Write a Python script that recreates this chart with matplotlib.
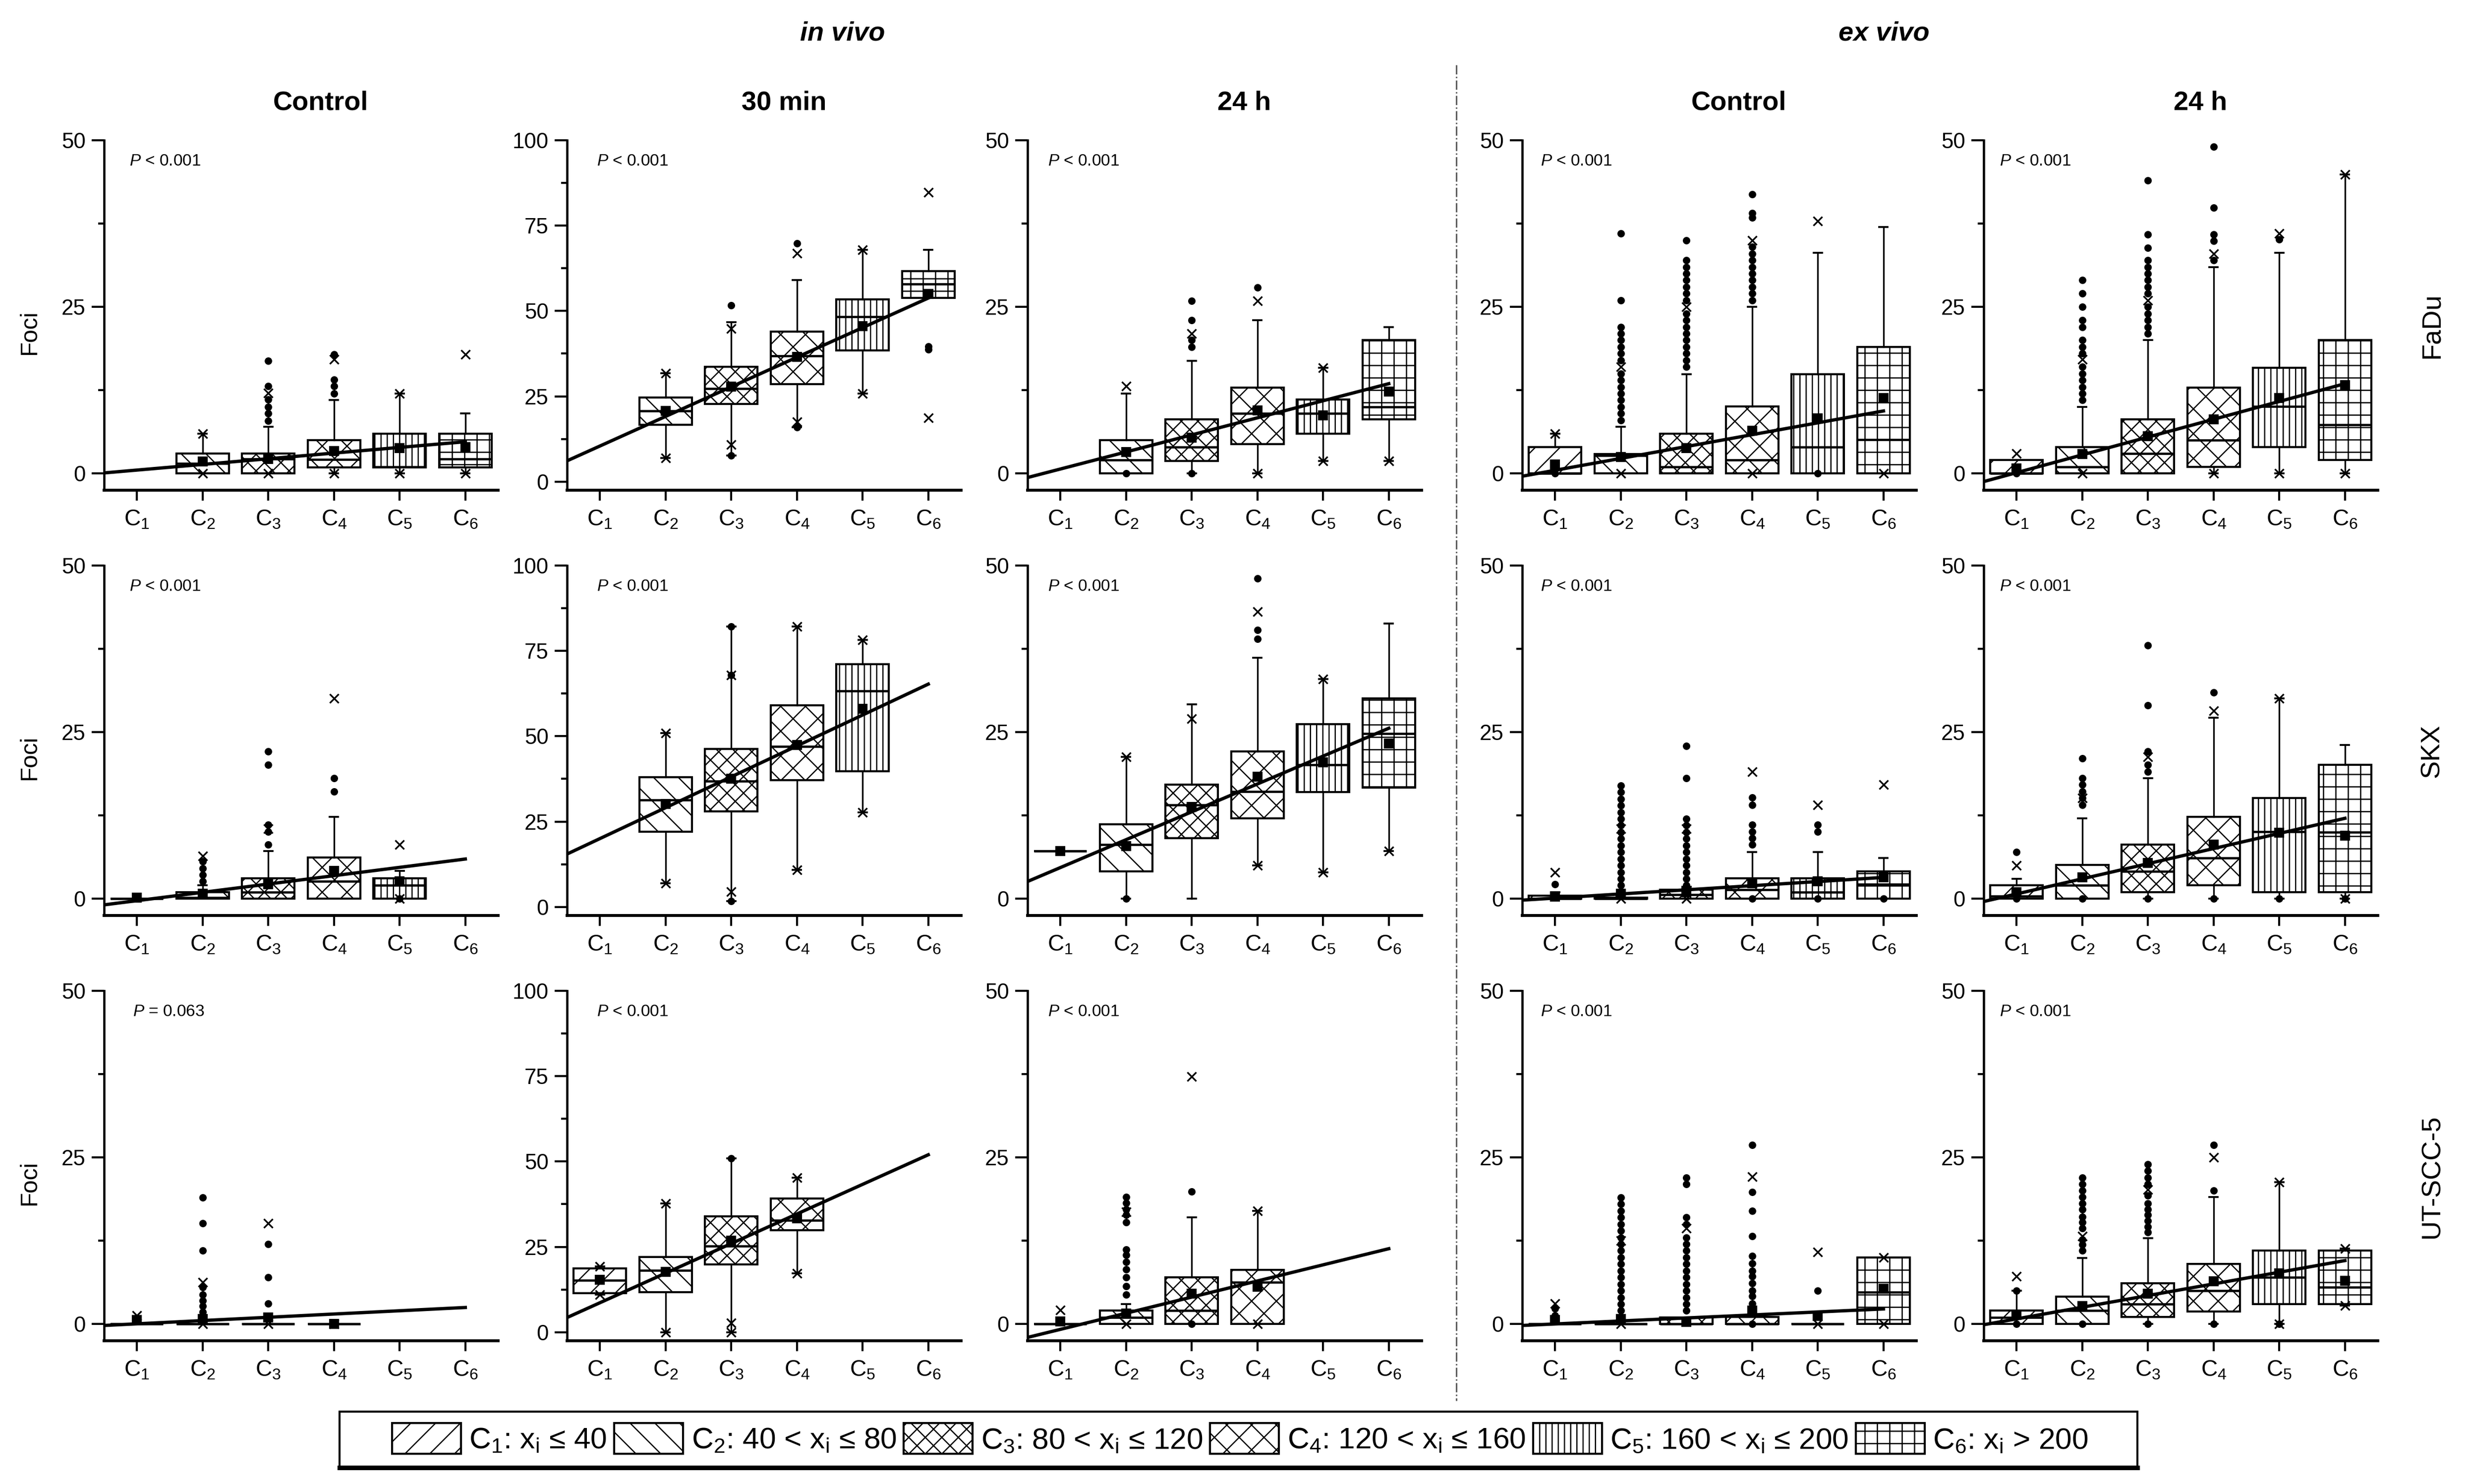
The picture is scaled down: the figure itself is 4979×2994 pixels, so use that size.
import numpy as np
import matplotlib
matplotlib.use("Agg")
import matplotlib.pyplot as plt
from matplotlib.patches import Patch, Rectangle
from matplotlib.lines import Line2D
from matplotlib.ticker import MultipleLocator

plt.rcParams['font.family'] = ['Liberation Sans', 'DejaVu Sans']
plt.rcParams['mathtext.fontset'] = 'custom'
plt.rcParams['mathtext.rm'] = 'Liberation Sans'
plt.rcParams['mathtext.it'] = 'Liberation Sans:italic'
plt.rcParams['mathtext.default'] = 'regular'
plt.rcParams['hatch.linewidth'] = 0.6

# ==========================================
# 1. DATA
# ==========================================
categories = ['C$_1$', 'C$_2$', 'C$_3$', 'C$_4$', 'C$_5$', 'C$_6$']
legend_labels = ['C$_1$: x$_i$ \u2264 40', 'C$_2$: 40 < x$_i$ \u2264 80',
                 'C$_3$: 80 < x$_i$ \u2264 120', 'C$_4$: 120 < x$_i$ \u2264 160',
                 'C$_5$: 160 < x$_i$ \u2264 200', 'C$_6$: x$_i$ > 200']
hatches = ['//', '\\\\', 'xxx', 'xx', '||||', '++']
col_titles = ['Control', '30 min', '24 h', 'Control', '24 h']
row_labels = ['FaDu', 'SKX', 'UT-SCC-5']
col_ymax = [50, 100, 50, 50, 50]
p_texts = [['< 0.001'] * 5, ['< 0.001'] * 5, ['= 0.063'] + ['< 0.001'] * 4]

# box stats per category: (q1, median, q3, whisker low, whisker high, mean); None = no data
# --- FaDu ---
fadu_vivo_ctrl = [None, (0, 1.5, 3.0, 0, 6.0, 1.8), (0, 2.2, 3.0, 0, 7.0, 2.2),
                  (0.9, 2.1, 5.0, 0, 11.0, 3.4), (0.9, 1.0, 6.0, 0, 12.0, 3.8), (0.9, 2.2, 6.0, 0, 9.0, 4.0)]
fadu_vivo_ctrl_dots = [[], [], [7.9, 9.0, 10.0, 11.1, 13.1, 16.9], [12.0, 13.1, 14.1, 17.9], [], []]
fadu_vivo_ctrl_cross = [[], [6.0, 0], [12.1, 0], [17.1, 0], [12.0, 0], [17.9, 0]]
fadu_vivo_ctrl_fit = (-0.33, 0.85)

fadu_vivo_30 = [None, (16.7, 20.8, 24.6, 6.9, 31.7, 20.7), (22.7, 27.2, 33.7, 7.7, 46.7, 27.8),
                (28.6, 36.9, 44.0, 15.9, 59.0, 36.5), (38.4, 48.3, 53.4, 25.8, 67.9, 45.5),
                (53.8, 57.9, 61.7, 53.8, 67.9, 55.0)]
fadu_vivo_30_dots = [[], [], [51.7, 7.7], [69.8, 15.9], [], [39.6, 38.8]]
fadu_vivo_30_cross = [[], [31.7, 6.9], [44.8, 10.8], [66.9, 17.5], [67.9, 25.8], [84.8, 18.7]]
fadu_vivo_30_fit = (1.77, 8.67)

fadu_vivo_24 = [None, (0, 2.0, 5.0, 0, 12.0, 3.2), (1.9, 4.0, 8.1, 0, 16.9, 5.4),
                (4.4, 9.0, 12.9, 0, 23.0, 9.5), (6.0, 9.0, 11.1, 1.9, 15.9, 8.75),
                (8.1, 10.0, 20.0, 1.9, 22.0, 12.3)]
fadu_vivo_24_dots = [[], [0], [19.0, 20.0, 23.0, 25.9, 0], [27.9], [], []]
fadu_vivo_24_cross = [[], [13.1], [21.0], [25.9, 0], [15.9, 1.9], [1.9]]
fadu_vivo_24_fit = (-1.88, 2.56)

fadu_ex_ctrl = [(0, 0, 4.0, 0, 6.0, 1.4), (0, 2.7, 2.9, 0, 7.0, 2.5), (0, 1.0, 6.0, 0, 14.9, 3.8),
                (0, 2.0, 10.1, 0, 25.0, 6.4), (0, 4.0, 14.9, 0, 33.1, 8.3), (0, 5.1, 19.0, 0, 37.0, 11.3)]
fadu_ex_ctrl_dots = [[0], [8, 9, 10, 11, 12, 13, 14, 15, 17, 18, 19, 20, 21, 22, 26, 36],
                     [16, 17, 18, 19, 20, 21, 22, 23, 24, 26, 27, 28, 29, 30, 31, 32, 35],
                     [26, 27, 28, 29, 30, 31, 32, 33, 34, 38.4, 39.1, 41.9], [0], []]
fadu_ex_ctrl_cross = [[6.0], [16, 0], [25], [35, 0], [37.9], [0]]
fadu_ex_ctrl_fit = (-1.29, 1.78)

fadu_ex_24 = [(0, 0, 2.0, 0, 2.0, 0.8), (0, 1.0, 4.0, 0, 10.0, 2.9), (0, 3.0, 8.1, 0, 20.0, 5.6),
              (1.0, 5.0, 12.9, 0, 31.0, 8.1), (4.0, 10.1, 15.9, 0, 33.1, 11.3), (2.0, 7.3, 20.0, 0, 44.9, 13.3)]
fadu_ex_24_dots = [[0], [11, 12, 13, 14, 15, 16, 18, 19, 20, 22, 23, 25, 27, 29],
                   [21, 22, 23, 24, 25, 27, 28, 29, 30, 31, 32, 33.9, 35.9, 44],
                   [32, 34.9, 35.9, 39.9, 49], [35.1], []]
fadu_ex_24_cross = [[3.0], [17.1, 0], [26], [33, 0], [36, 0], [44.9, 0]]
fadu_ex_24_fit = (-2.54, 2.67)

# --- SKX ---
skx_vivo_ctrl = [(0, 0, 0, 0, 0, 0.2), (0, 0.2, 1.0, 0, 2.0, 0.8), (0, 1.0, 3.1, 0, 7.2, 2.2),
                 (0, 2.6, 6.2, 0, 12.3, 4.2), (0, 2.0, 3.1, 0, 4.2, 2.6), None]
skx_vivo_ctrl_dots = [[], [2.6, 3.6, 4.6, 5.6], [8.1, 10.1, 11.1, 20.1, 22.1], [16.1, 18.1], [0], []]
skx_vivo_ctrl_cross = [[], [6.4], [10.5], [30.1], [8.1, 0], []]
skx_vivo_ctrl_fit = (-1.53, 1.25)

skx_vivo_30 = [None, (22.1, 31.3, 38.0, 6.9, 51.0, 30.1), (28.0, 36.8, 46.3, 1.7, 82.1, 37.6),
               (37.2, 47.0, 59.1, 10.8, 82.1, 47.4), (39.8, 63.2, 71.1, 27.7, 78.2, 58.1), None]
skx_vivo_30_dots = [[], [], [82.1, 67.9, 1.7], [], [], []]
skx_vivo_30_cross = [[], [51.0, 6.9], [67.9, 4.5], [82.1, 10.8], [78.2, 27.7], []]
skx_vivo_30_fit = (10.97, 9.05)

skx_vivo_24 = [(7.2, 7.2, 7.2, 7.2, 7.2, 7.2), (4.1, 8.1, 11.2, 0, 21.3, 7.9), (9.1, 14.1, 17.1, 0, 29.2, 13.8),
               (12.1, 16.1, 22.1, 5.0, 36.2, 18.3), (16.0, 20.1, 26.2, 4.0, 33.0, 20.5),
               (16.7, 24.8, 30.1, 7.2, 41.3, 23.3)]
skx_vivo_24_dots = [[], [0], [], [39.0, 40.3, 48.1], [], []]
skx_vivo_24_cross = [[], [21.3], [27.0], [43.1, 5.0], [33.0, 4.0], [7.2]]
skx_vivo_24_fit = (0.51, 4.18)

skx_ex_ctrl = [(0, 0, 0.5, 0, 1.0, 0.3), (0, 0, 0.2, 0, 0.5, 0.8), (0, 0.6, 1.4, 0, 1.8, 1.0),
               (0, 1.4, 3.1, 0, 7.0, 2.3), (0, 1.0, 3.1, 0, 7.0, 2.6), (0, 2.2, 4.1, 0, 6.1, 3.2)]
skx_ex_ctrl_dots = [[2.2], [1, 2, 3, 4, 5, 6, 7, 8, 9, 10, 11, 12, 13, 14, 15, 16, 17],
                    [2, 3, 4, 5, 6, 7, 8, 9, 10, 11, 12, 18.1, 22.9],
                    [8.1, 9.1, 10.1, 11.1, 14.1, 15.2, 0], [10.1, 11.1, 0], [0]]
skx_ex_ctrl_cross = [[4.0], [10.5, 0], [10.5, 0], [19.1], [14.1], [17.1]]
skx_ex_ctrl_fit = (-0.51, 0.62)

skx_ex_24 = [(0, 0.4, 2.0, 0, 3.0, 1.0), (0, 2.0, 5.1, 0, 12.1, 3.2), (1.0, 4.1, 8.1, 0, 18.1, 5.4),
             (2.0, 6.1, 12.3, 0, 27.2, 8.1), (1.0, 10.1, 15.1, 0, 30.1, 9.9), (1.0, 10.0, 20.1, 0, 23.1, 9.5)]
skx_ex_24_dots = [[7.0, 0], [14.1, 15.1, 16.1, 17.1, 18.1, 21.1, 0], [19.1, 20.1, 22.1, 29.0, 38.0, 0],
                  [31.0, 0], [0], [0]]
skx_ex_24_cross = [[5.0], [15.1], [21.3], [28.2], [30.1], [0]]
skx_ex_24_fit = (-1.54, 2.27)

# --- UT-SCC-5 ---
ut_vivo_ctrl = [(0, 0, 0, 0, 0, 0.6), (0, 0, 0, 0, 0, 0.8), (0, 0, 0, 0, 0, 1.0), (0, 0, 0, 0, 0, 0),
                None, None]
ut_vivo_ctrl_dots = [[], [1.8, 2.7, 3.5, 4.4, 5.5, 11.0, 15.1, 19.0], [3.1, 7.0, 12.0], [], [], []]
ut_vivo_ctrl_cross = [[1.3], [6.3, 0], [15.1, 0], [0], [], []]
ut_vivo_ctrl_fit = (-0.45, 0.49)

ut_vivo_30 = [(11.4, 15.2, 18.7, 11.0, 19.3, 15.3), (11.8, 18.1, 22.0, 0, 37.7, 17.7),
              (19.8, 25.3, 33.9, 0, 51.0, 26.8), (29.9, 32.8, 39.1, 17.3, 45.3, 33.3), None, None]
ut_vivo_30_dots = [[], [], [51.0], [], [], []]
ut_vivo_30_cross = [[19.3, 11.0], [37.7, 0], [2.7, 0], [45.3, 17.3], [], []]
ut_vivo_30_fit = (-0.04, 8.67)

ut_vivo_24 = [(0, 0, 0, 0, 0, 0.4), (0, 1.0, 2.0, 0, 3.0, 1.6), (0, 2.0, 7.0, 0, 16.0, 4.6),
              (0, 6.3, 8.1, 0, 17.0, 5.6), None, None]
ut_vivo_24_dots = [[], [4.4, 5.7, 7.0, 8.2, 9.3, 10.4, 11.2, 15.3, 16.4, 17.2, 18.2, 19.1], [19.9, 0], [], [], []]
ut_vivo_24_cross = [[2.1], [16.8, 0], [37.1], [17.0, 0], [], []]
ut_vivo_24_fit = (-3.21, 2.42)

ut_ex_ctrl = [(0, 0, 0, 0, 0, 0.6), (0, 0, 0, 0, 0, 0.8), (0, 0, 1.0, 0, 1.0, 0.3),
              (0, 0, 1.1, 0, 1.1, 2.0), (0, 0, 0, 0, 0, 1.2), (0, 4.8, 10.0, 0, 10.0, 5.3)]
ut_ex_ctrl_dots = [[1.3, 2.3], [1, 2, 3, 4, 5, 6, 7, 8, 9, 10, 11, 12, 13, 14, 15, 16, 17, 18, 19],
                   [2, 3, 4, 5, 6, 7, 8, 9, 10, 11, 12, 13, 15, 16, 21, 22],
                   [2.3, 3.1, 4.2, 5.0, 6.1, 7.2, 8.0, 9.1, 10.2, 13.2, 17.0, 19.8, 26.9, 0], [5.0], []]
ut_ex_ctrl_cross = [[3.1], [12.5, 0], [14.4], [22.1], [10.8, 0], [10.0, 0]]
ut_ex_ctrl_fit = (-0.43, 0.45)

ut_ex_24 = [(0, 1.0, 2.0, 0, 5.0, 1.4), (0, 2.0, 4.1, 0, 9.9, 2.7), (1.1, 3.0, 6.1, 0, 12.9, 4.6),
            (1.9, 5.0, 9.0, 0, 19.1, 6.4), (3.0, 7.0, 11.0, 0, 21.3, 7.6), (3.0, 5.5, 11.0, 2.8, 11.3, 6.5)]
ut_ex_24_dots = [[5.0, 0], [11.0, 11.9, 12.7, 14.4, 15.3, 16.1, 17.2, 18.1, 19.1, 20.0, 21.0, 22.0, 0],
                 [13.8, 14.6, 15.5, 16.4, 17.2, 18.1, 19.3, 21.0, 22.0, 23.0, 24.0, 0],
                 [20.0, 26.9, 0], [0], []]
ut_ex_24_cross = [[7.2], [13.2], [20.2], [25.0], [21.3, 0], [11.3, 2.8]]
ut_ex_24_fit = (-0.97, 1.75)

panels = [
    [(fadu_vivo_ctrl, fadu_vivo_ctrl_dots, fadu_vivo_ctrl_cross, fadu_vivo_ctrl_fit),
     (fadu_vivo_30, fadu_vivo_30_dots, fadu_vivo_30_cross, fadu_vivo_30_fit),
     (fadu_vivo_24, fadu_vivo_24_dots, fadu_vivo_24_cross, fadu_vivo_24_fit),
     (fadu_ex_ctrl, fadu_ex_ctrl_dots, fadu_ex_ctrl_cross, fadu_ex_ctrl_fit),
     (fadu_ex_24, fadu_ex_24_dots, fadu_ex_24_cross, fadu_ex_24_fit)],
    [(skx_vivo_ctrl, skx_vivo_ctrl_dots, skx_vivo_ctrl_cross, skx_vivo_ctrl_fit),
     (skx_vivo_30, skx_vivo_30_dots, skx_vivo_30_cross, skx_vivo_30_fit),
     (skx_vivo_24, skx_vivo_24_dots, skx_vivo_24_cross, skx_vivo_24_fit),
     (skx_ex_ctrl, skx_ex_ctrl_dots, skx_ex_ctrl_cross, skx_ex_ctrl_fit),
     (skx_ex_24, skx_ex_24_dots, skx_ex_24_cross, skx_ex_24_fit)],
    [(ut_vivo_ctrl, ut_vivo_ctrl_dots, ut_vivo_ctrl_cross, ut_vivo_ctrl_fit),
     (ut_vivo_30, ut_vivo_30_dots, ut_vivo_30_cross, ut_vivo_30_fit),
     (ut_vivo_24, ut_vivo_24_dots, ut_vivo_24_cross, ut_vivo_24_fit),
     (ut_ex_ctrl, ut_ex_ctrl_dots, ut_ex_ctrl_cross, ut_ex_ctrl_fit),
     (ut_ex_24, ut_ex_24_dots, ut_ex_24_cross, ut_ex_24_fit)],
]

# ==========================================
# 2. LAYOUT
# ==========================================
W, H = 4979, 2994
fig = plt.figure(figsize=(W / 300, H / 300), dpi=300)

ax_left_px = [210, 1144, 2073, 3071, 4002]
ax_bottom_px = [989, 1847, 2705]
ax_w_px, ax_h_px = 795, 706
p_x = [0.064, 0.075, 0.052, 0.047, 0.040]


def draw_panel(ax, stats, dots, cross, fit, ymax):
    bstats, pos = [], []
    for i, s in enumerate(stats):
        if s is None:
            continue
        q1, med, q3, lo, hi, mean = s
        bstats.append(dict(q1=q1, med=med, q3=q3, whislo=lo, whishi=hi, mean=mean, fliers=dots[i]))
        pos.append(i + 1)
    bp = ax.bxp(bstats, positions=pos, widths=0.8, capwidths=0.13, patch_artist=True, showmeans=True,
                boxprops=dict(facecolor='white', edgecolor='black', linewidth=1.0),
                medianprops=dict(color='black', linewidth=1.1),
                whiskerprops=dict(color='black', linewidth=0.8),
                capprops=dict(color='black', linewidth=0.9),
                meanprops=dict(marker='s', markerfacecolor='black', markeredgecolor='black', markersize=4),
                flierprops=dict(marker='o', markerfacecolor='black', markeredgecolor='black',
                                markersize=2.6, linestyle='none'))
    for patch, p in zip(bp['boxes'], pos):
        patch.set_hatch(hatches[p - 1])
    for m in bp['means']:
        m.set_zorder(6)
    for i, c in enumerate(cross):
        if c:
            ax.plot([i + 1] * len(c), c, linestyle='none', marker='x', color='black',
                    markersize=4.5, markeredgewidth=0.8, zorder=4)
    xs = np.array([0.5, 6.0])
    ax.plot(xs, fit[0] + fit[1] * xs, color='black', linewidth=1.6, zorder=5)

    ax.set_xlim(0.5, 6.5)
    ax.set_ylim(-2.5, ymax)
    ax.set_xticks(range(1, 7))
    ax.set_xticklabels(categories)
    ax.yaxis.set_major_locator(MultipleLocator(25))
    ax.yaxis.set_minor_locator(MultipleLocator(12.5))
    ax.spines['top'].set_visible(False)
    ax.spines['right'].set_visible(False)
    ax.spines['left'].set_linewidth(1.1)
    ax.spines['bottom'].set_linewidth(1.4)
    ax.tick_params(axis='y', which='major', direction='out', length=6, width=1.0, labelsize=10.5, pad=3)
    ax.tick_params(axis='y', which='minor', direction='out', length=3, width=1.0)
    ax.tick_params(axis='x', direction='out', length=5, width=1.0, labelsize=11, pad=4)


for r in range(3):
    for c in range(5):
        ax = fig.add_axes([ax_left_px[c] / W, 1 - ax_bottom_px[r] / H, ax_w_px / W, ax_h_px / H])
        stats, dots, cross, fit = panels[r][c]
        draw_panel(ax, stats, dots, cross, fit, col_ymax[c])
        ax.text(p_x[c] if not (r == 2 and c == 0) else 0.073, 0.94, r'$\mathit{P}$ ' + p_texts[r][c],
                transform=ax.transAxes, fontsize=8, ha='left', va='center')
        if r == 0:
            ax.text(0.55, 1.0 + 75 / ax_h_px, col_titles[c], transform=ax.transAxes,
                    fontsize=13, fontweight='bold', ha='center', va='center')
        if c == 0:
            ax.text(-150 / ax_w_px, 0.45, 'Foci', transform=ax.transAxes, rotation=90,
                    fontsize=11.5, ha='center', va='center')
        if c == 4:
            ax.text(1 + 109 / ax_w_px, 0.47, row_labels[r], transform=ax.transAxes, rotation=90,
                    fontsize=13, ha='center', va='center')

# group headers and divider
fig.text(1700 / W, 1 - 67 / H, 'in vivo', fontsize=13, fontweight='bold', fontstyle='italic',
         ha='center', va='center')
fig.text(3801 / W, 1 - 67 / H, 'ex vivo', fontsize=13, fontweight='bold', fontstyle='italic',
         ha='center', va='center')
fig.add_artist(Line2D([2938 / W, 2938 / W], [1 - 131 / H, 1 - 2826 / H], transform=fig.transFigure,
                      linestyle='-.', linewidth=0.7, color='0.35'))

# ==========================================
# 3. LEGEND
# ==========================================
handles = [Patch(facecolor='white', edgecolor='black', hatch=h, linewidth=1.0) for h in hatches]
fig.legend(handles, legend_labels, loc='center', bbox_to_anchor=(2502 / W, 1 - 2903 / H), ncol=6,
           frameon=False, fontsize=14.5, handlelength=2.3, handleheight=1.2, handletextpad=0.27,
           columnspacing=0.25, borderpad=0.2)
fig.add_artist(Rectangle((685 / W, 1 - 2959 / H), (4312 - 685) / W, 111 / H, transform=fig.transFigure,
                         fill=False, edgecolor='black', linewidth=1.0))
fig.add_artist(Line2D([685 / W, 4312 / W], [1 - 2961 / H, 1 - 2961 / H], transform=fig.transFigure,
                      color='black', linewidth=2.2))

fig.savefig("out.png", dpi=300)
